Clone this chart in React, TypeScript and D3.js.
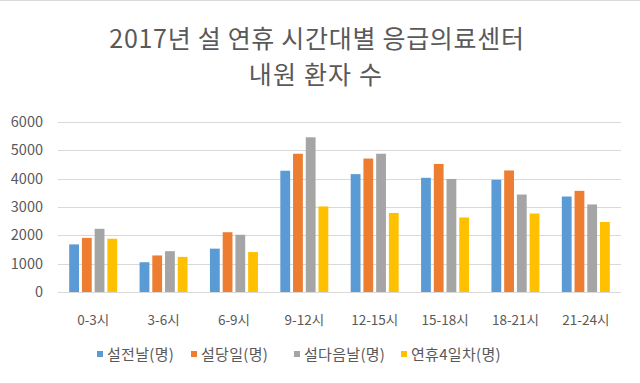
import React from "react";
import * as d3 from "d3";

const categories = ["0-3시", "3-6시", "6-9시", "9-12시", "12-15시", "15-18시", "18-21시", "21-24시"];
const seriesNames = ["설전날(명)", "설당일(명)", "설다음날(명)", "연휴4일차(명)"];
const s1 = [1680, 1050, 1530, 4280, 4160, 4030, 3960, 3370];
const s2 = [1910, 1290, 2110, 4880, 4710, 4520, 4290, 3570];
const s3 = [2230, 1440, 2020, 5460, 4880, 3990, 3440, 3090];
const s4 = [1880, 1240, 1410, 3020, 2790, 2630, 2770, 2470];
const yTicks = [0, 1000, 2000, 3000, 4000, 5000, 6000];
const colors = ["#5b9bd5", "#ed7d31", "#a5a5a5", "#ffc000"];

const W = 640, H = 384;
const FONT = "'Noto Sans CJK KR', 'Noto Sans', sans-serif";

export default function App() {
  const series = [s1, s2, s3, s4];
  const x = d3.scaleBand<string>().domain(categories).range([58, 621]).paddingInner(0).paddingOuter(0);
  const inner = d3.scaleBand<number>().domain([0, 1, 2, 3]).range([11.2, x.bandwidth() - 11.2]).paddingInner(0.23);
  const y = d3.scaleLinear().domain([0, 6000]).range([292, 122]);
  const legendX = [97, 191, 294, 401];
  return (
    <svg width={W} height={H} style={{ position: "absolute", left: 0, top: 0, background: "#fff" }} fontFamily={FONT}>
      <rect x={0} y={0} width={W} height={H} fill="#fff" />
      <line x1={0} x2={W} y1={0.5} y2={0.5} stroke="#d9d9d9" />
      <line x1={0} x2={W} y1={H - 0.5} y2={H - 0.5} stroke="#d9d9d9" />
      <text x={317} y={48} textAnchor="middle" fontSize={25} letterSpacing={0.7} fill="#595959">2017년 설 연휴 시간대별 응급의료센터</text>
      <text x={316} y={84} textAnchor="middle" fontSize={25} letterSpacing={1.2} fill="#595959">내원 환자 수</text>
      {yTicks.map((t) => (
        <g key={t}>
          <line x1={58} x2={621} y1={Math.round(y(t)) + 0.5} y2={Math.round(y(t)) + 0.5} stroke="#d9d9d9" strokeWidth={1.2} />
          <text x={43} y={y(t) + 5} textAnchor="end" fontSize={14.5} fill="#595959">{t}</text>
        </g>
      ))}
      {categories.map((c, i) => (
        <g key={c} transform={`translate(${x(c)},0)`}>
          {series.map((s, k) => (
            <rect key={k} x={inner(k)} y={y(s[i])} width={inner.bandwidth()} height={y(0) - y(s[i])} fill={colors[k]} />
          ))}
          <text x={x.bandwidth() / 2} y={325} textAnchor="middle" fontSize={13.5} fill="#595959">{c}</text>
        </g>
      ))}
      {seriesNames.map((n, k) => (
        <g key={n}>
          <rect x={legendX[k]} y={351} width={6} height={6} fill={colors[k]} />
          <text x={legendX[k] + 10} y={360} fontSize={15} letterSpacing={0.3} fill="#595959">{n}</text>
        </g>
      ))}
    </svg>
  );
}
